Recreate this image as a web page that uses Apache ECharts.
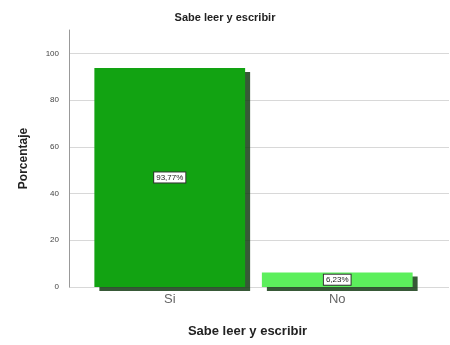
<!DOCTYPE html>
<html>
<head>
<meta charset="utf-8">
<script src="https://cdn.jsdelivr.net/npm/echarts@6/dist/echarts.min.js"></script>
<style>
  html, body { margin: 0; padding: 0; background: #fff; }
  #chart { width: 450px; height: 345px; }
</style>
</head>
<body>
<div id="chart"></div>
<script>
// Sabe leer y escribir: percentage of respondents
const categories = ['Si', 'No'];
const percentages = [93.77, 6.23];
const barColors = ['#12a312', '#5cef5c'];
const yTicks = [0, 20, 40, 60, 80, 100];

const fmt = v => v.toFixed(2).replace('.', ',') + '%';

const chart = echarts.init(document.getElementById('chart'));
chart.setOption({
  animation: false,
  backgroundColor: '#ffffff',
  title: {
    text: 'Sabe leer y escribir',
    left: 'center',
    top: 7,
    textStyle: { fontFamily: 'Arial, Liberation Sans', fontSize: 11, fontWeight: 'bold', color: '#222' }
  },
  grid: [
    { left: 69, right: 1, top: 30, bottom: 58 },
    { left: 86, right: 29, top: 30, bottom: 58 }
  ],
  xAxis: [
    {
      gridIndex: 0, type: 'value', min: 0, max: 1,
      axisLine: { show: false }, axisTick: { show: false },
      axisLabel: { show: false }, splitLine: { show: false }
    },
    {
      gridIndex: 1, type: 'category', data: categories,
      name: 'Sabe leer y escribir', nameLocation: 'middle', nameGap: 38,
      nameTextStyle: { fontFamily: 'Arial, Liberation Sans', fontSize: 13, fontWeight: 'bold', color: '#222', padding: [0, 12, 0, 0] },
      axisLine: { show: false }, axisTick: { show: false },
      axisLabel: { fontFamily: 'Arial, Liberation Sans', fontSize: 13, color: '#666', margin: 6 }
    }
  ],
  yAxis: [
    {
      gridIndex: 0, type: 'value', min: 0, max: 110, interval: 20,
      name: 'Porcentaje', nameLocation: 'middle', nameGap: 39, nameRotate: 90,
      nameTextStyle: { fontFamily: 'Arial, Liberation Sans', fontSize: 12, fontWeight: 'bold', color: '#222' },
      axisLine: { show: true, lineStyle: { color: '#999', width: 1 } },
      axisTick: { show: false },
      axisLabel: {
        fontFamily: 'Arial, Liberation Sans', fontSize: 8, color: '#444', margin: 10,
        formatter: v => (yTicks.indexOf(v) >= 0 ? String(v) : '')
      },
      splitLine: { show: true, showMaxLine: false, lineStyle: { color: '#d8d8d8', width: 1 } }
    },
    {
      gridIndex: 1, type: 'value', min: 0, max: 110,
      axisLine: { show: false }, axisTick: { show: false },
      axisLabel: { show: false }, splitLine: { show: false }
    }
  ],
  series: [
    {
      type: 'bar',
      xAxisIndex: 1, yAxisIndex: 1,
      barWidth: '90%',
      data: percentages.map((v, i) => ({
        value: v,
        itemStyle: {
          color: barColors[i],
          borderWidth: 0,
          shadowColor: 'rgba(20,60,20,0.85)',
          shadowBlur: 0,
          shadowOffsetX: 5,
          shadowOffsetY: 4
        }
      })),
      label: {
        show: true,
        position: 'inside',
        formatter: p => fmt(p.value),
        fontFamily: 'Arial, Liberation Sans',
        fontSize: 8,
        color: '#222',
        backgroundColor: '#ffffff',
        borderColor: '#333',
        borderWidth: 1,
        padding: [1, 2, 1, 2]
      },
      z: 3
    }
  ]
});
</script>
</body>
</html>
